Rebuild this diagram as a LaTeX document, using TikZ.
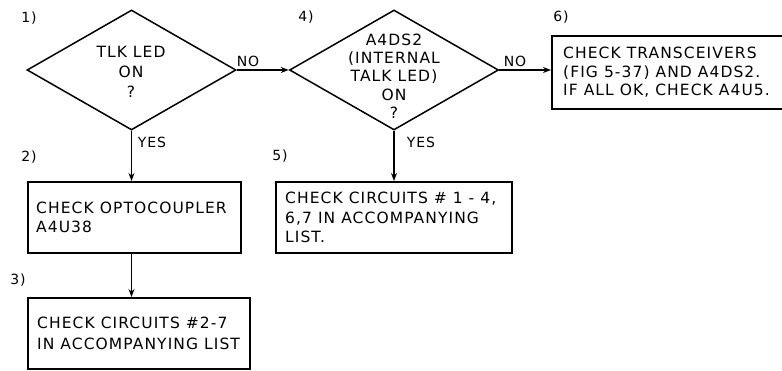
\documentclass[tikz,border=0pt]{standalone}
\usepackage{fontspec}
\setmainfont{DejaVu Sans}[LetterSpace=7]
\usetikzlibrary{shapes.geometric,arrows.meta}
\begin{document}
\begin{tikzpicture}[x=1pt,y=-1pt,
  dia/.style={draw,diamond,line width=1.5pt,minimum width=209pt,minimum height=120pt,inner sep=0pt},
  box/.style={draw,rectangle,line width=2pt,inner sep=0pt,anchor=north west},
  dtxt/.style={font=\fontsize{15.5}{20}\selectfont,align=center,inner sep=0pt},
  btxt/.style={font=\fontsize{15.5}{19.5}\selectfont,align=left,inner sep=0pt,anchor=west},
  lbl/.style={font=\fontsize{14}{17}\selectfont,inner sep=0pt},
  arr/.style={line width=1.3pt,-{Stealth[length=8pt,width=6pt]}}]
\useasboundingbox (0,0) rectangle (782,371);
\clip (0,0) rectangle (782,371);

% decisions
\node[dia] (d1) at (131.5,70) {};
\node[dia] (d4) at (394,70) {};
\node[dtxt] (t1) at (131,71.5) {TLK LED\\ON\\?};
\node[dtxt,font=\fontsize{15.5}{18.3}\selectfont] (t4) at (394,76) {A4DS2\\(INTERNAL\\TALK LED)\\ON\\?};

% boxes
\node[box,minimum width=213pt,minimum height=71pt] (b2) at (27,181) {};
\node[box,minimum width=222pt,minimum height=71pt] (b3) at (27,297) {};
\node[box,minimum width=236pt,minimum height=71pt] (b5) at (275,181) {};
\node[box,minimum width=250pt,minimum height=73pt] (b6) at (551,35) {};

\node[btxt] (t2) at ([xshift=9pt]b2.west) {CHECK OPTOCOUPLER\\A4U38};
\node[btxt,font=\fontsize{15.5}{20.5}\selectfont] (t3) at ([xshift=10pt]b3.west) {CHECK CIRCUITS \#2-7\\IN ACCOMPANYING LIST};
\node[btxt] (t5) at ([xshift=10pt]b5.west) {CHECK CIRCUITS \# 1 - 4,\\6,7 IN ACCOMPANYING\\LIST.};
\node[btxt,font=\fontsize{15.5}{18.5}\selectfont] (t6) at ([xshift=12pt]b6.west) {CHECK TRANSCEIVERS\\(FIG 5-37) AND A4DS2.\\IF ALL OK, CHECK A4U5.};

% step labels
\node[lbl] (n1) at (29,18) {1)};
\node[lbl] (n2) at (29,157) {2)};
\node[lbl] (n3) at (18,280) {3)};
\node[lbl] (n4) at (306,17) {4)};
\node[lbl] (n5) at (280,156) {5)};
\node[lbl] (n6) at (561,17) {6)};

% connector labels
\node[lbl] (no1) at (248,61) {NO};
\node[lbl] (no4) at (515,61) {NO};
\node[lbl] (y1) at (152,142) {YES};
\node[lbl] (y4) at (421,142) {YES};

% connectors
\draw[arr] (d1.east) -- (d4.west);
\draw[arr] (d4.east) -- (d4.east -| b6.west);
\draw[arr] (d1.south) -- (d1.south |- b2.north);
\draw[arr] (d4.south) -- (d4.south |- b5.north);
\draw[arr] (d1.south |- b2.south) -- (d1.south |- b3.north);
\end{tikzpicture}
\end{document}
